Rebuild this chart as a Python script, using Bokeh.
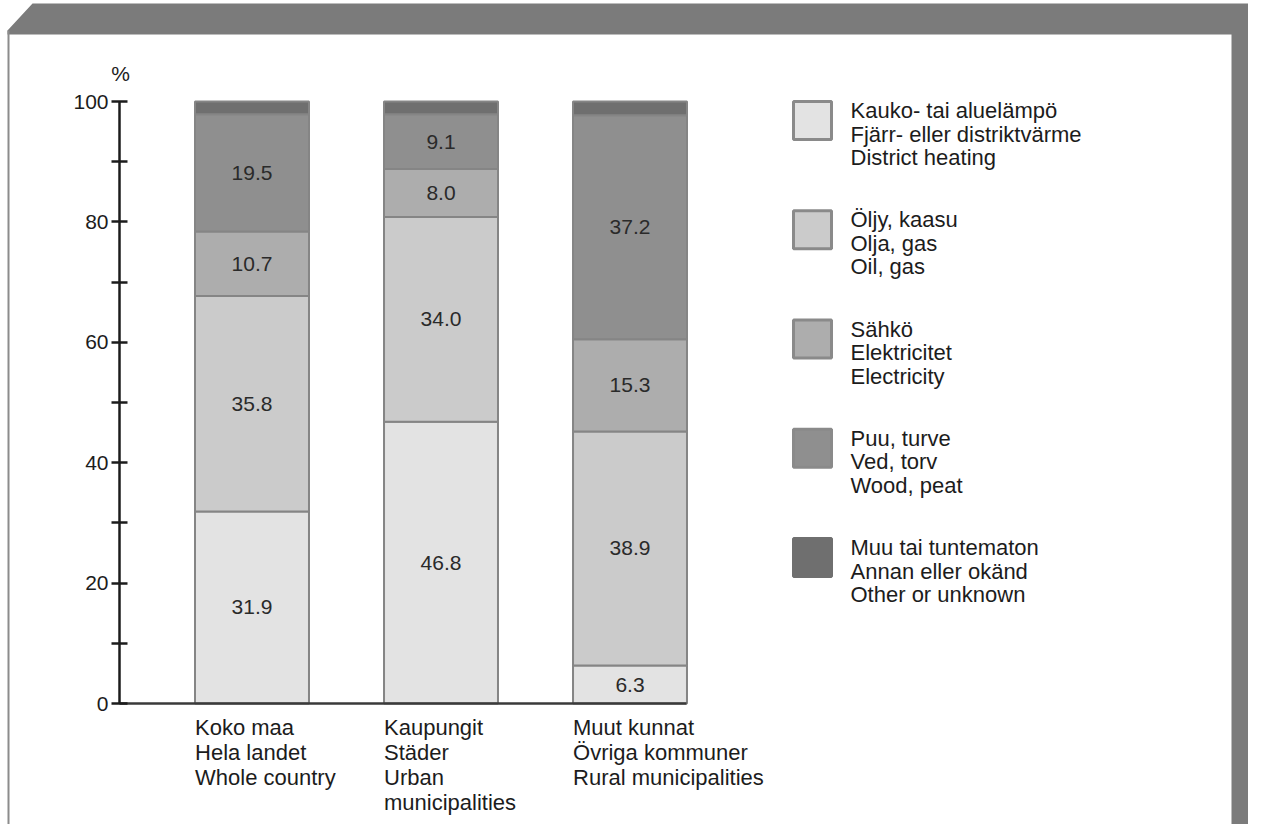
from bokeh.plotting import figure
from bokeh.models import ColumnDataSource, Range1d, LinearAxis, FixedTicker
from bokeh.core.properties import value
from bokeh.embed import file_html
from bokeh.resources import INLINE

# ---------------- data ----------------
x_pos = [1, 2, 3]
category_labels = [
    ["Koko maa", "Hela landet", "Whole country"],
    ["Kaupungit", "Städer", "Urban", "municipalities"],
    ["Muut kunnat", "Övriga kommuner", "Rural municipalities"],
]
district_heating = [31.9, 46.8, 6.3]
oil_gas = [35.8, 34.0, 38.9]
electricity = [10.7, 8.0, 15.3]
wood_peat = [19.5, 9.1, 37.2]
other_unknown = [2.1, 2.1, 2.3]

series_keys = ["district", "oil", "elec", "wood", "other"]
legend_labels = [
    ["Kauko- tai aluelämpö", "Fjärr- eller distriktvärme", "District heating"],
    ["Öljy, kaasu", "Olja, gas", "Oil, gas"],
    ["Sähkö", "Elektricitet", "Electricity"],
    ["Puu, turve", "Ved, torv", "Wood, peat"],
    ["Muu tai tuntematon", "Annan eller okänd", "Other or unknown"],
]
y_ticks = [0, 20, 40, 60, 80, 100]
y_minor_ticks = [10, 30, 50, 70, 90]

# ---------------- styling ----------------
fills = ["#e3e3e3", "#cbcbcb", "#adadad", "#8f8f8f", "#6f6f6f"]
box_lines = ["#8a8a8a", "#8a8a8a", "#8a8a8a", "#8a8a8a", "#6f6f6f"]
TXT = "#1c1c1c"
FONT = "Liberation Sans"
FS = "21px"
FS_TXT = "22px"

W, H = 1248, 824
X0, XS = 62.5, 189.0   # pixel of x=0, pixels per category unit
Y0, YS = 703.0, 6.02   # pixel (from top) of y=0, pixels per percent


def px2x(px):
    return (px - X0) / XS


def px2y(py):
    return (Y0 - py) / YS


bar_w = 0.603
axis_x = px2x(119)

p = figure(width=W, height=H, output_backend="svg", toolbar_location=None,
           x_range=Range1d(px2x(0), px2x(W)), y_range=Range1d(px2y(H), px2y(0)),
           x_axis_location=None, y_axis_location=None, min_border=0,
           outline_line_color=None, background_fill_color="white",
           border_fill_color="white")
p.grid.visible = False

# ---------------- page frame decoration ----------------
frame_px = [(7, 30), (32, 3), (1257, 3), (1257, 828), (1231, 840),
            (1231, 34), (7, 34)]
p.patch([px2x(a) for a, b in frame_px], [px2y(b) for a, b in frame_px],
        fill_color="#7b7b7b", line_color=None)
p.line([px2x(8), px2x(8)], [px2y(30), px2y(H)], line_color="#8c8c8c", line_width=2)

# ---------------- bars ----------------
src = ColumnDataSource(dict(x=x_pos, district=district_heating, oil=oil_gas,
                            elec=electricity, wood=wood_peat, other=other_unknown))
p.vbar_stack(series_keys, x="x", width=bar_w, source=src, fill_color=fills,
             line_color="#858585", line_width=2)

# value labels (all but the last series)
series_vals = [district_heating, oil_gas, electricity, wood_peat]
lx, ly, lt = [], [], []
for j, xv in enumerate(x_pos):
    base = 0.0
    for s in series_vals:
        v = s[j]
        lx.append(xv)
        ly.append(base + v / 2)
        lt.append(f"{v:.1f}")
        base += v
p.text(lx, ly, lt, text_font=value(FONT), text_font_size=FS, text_align="center",
       text_baseline="middle", text_color="#2a2a2a")

# ---------------- axes ----------------
yax = LinearAxis(fixed_location=axis_x, bounds=(0, 100),
                 ticker=FixedTicker(ticks=y_ticks, minor_ticks=y_minor_ticks))
yax.axis_line_width = 2.5
yax.axis_line_color = TXT
yax.major_tick_in = 8
yax.major_tick_out = 8
yax.minor_tick_in = 8
yax.minor_tick_out = 8
yax.major_tick_line_width = 2.5
yax.minor_tick_line_width = 2.5
yax.major_tick_line_color = TXT
yax.minor_tick_line_color = TXT
yax.major_label_standoff = 3
yax.major_label_text_font = FONT
yax.major_label_text_font_size = FS
yax.major_label_text_color = TXT
p.add_layout(yax, "left")

xax = LinearAxis(fixed_location=0, bounds=(axis_x, x_pos[-1] + bar_w / 2),
                 ticker=FixedTicker(ticks=[]))
xax.axis_line_width = 2.5
xax.axis_line_color = "#3a3a3a"
xax.major_tick_line_color = None
xax.minor_tick_line_color = None
xax.major_label_text_color = None
p.add_layout(xax, "below")

p.text([px2x(120)], [px2y(73)], ["%"], text_font=value(FONT), text_font_size=FS,
       text_align="center", text_baseline="middle", text_color=TXT)

# category labels below bars
cx, cy, ct = [], [], []
for j, xv in enumerate(x_pos):
    for k, line in enumerate(category_labels[j]):
        cx.append(xv - bar_w / 2)
        cy.append(px2y(727 + 25 * k))
        ct.append(line)
p.text(cx, cy, ct, text_font=value(FONT), text_font_size=FS_TXT, text_align="left",
       text_baseline="middle", text_color=TXT)

# ---------------- legend ----------------
box_x = px2x(812)
gx, gy = [], []
tx, ty, tt = [], [], []
for i, lines in enumerate(legend_labels):
    top = 100 + 109.25 * i
    gx.append(box_x)
    gy.append(px2y(top + 20))
    for k, line in enumerate(lines):
        tx.append(px2x(850))
        ty.append(px2y(top + 10 + 23.5 * k))
        tt.append(line)
p.rect(gx, gy, width=38, height=38, width_units="screen", height_units="screen",
       fill_color=fills, line_color=box_lines, line_width=3)
p.text(tx, ty, tt, text_font=value(FONT), text_font_size=FS_TXT, text_align="left",
       text_baseline="middle", text_color=TXT)

open("out.html", "w").write(file_html(p, INLINE))
